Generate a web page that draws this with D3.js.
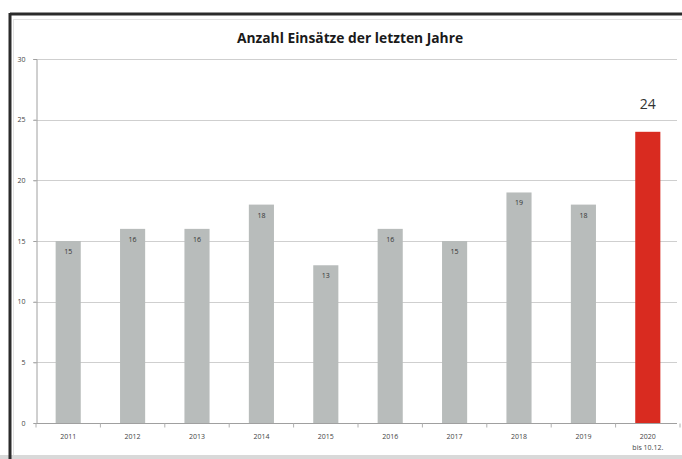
<!DOCTYPE html>
<html>
<head>
<meta charset="utf-8">
<script src="https://cdn.jsdelivr.net/npm/d3@7"></script>
<style>
  html, body { margin: 0; padding: 0; background: #ffffff; }
  svg { display: block; font-family: "Open Sans", "Liberation Sans", sans-serif; }
</style>
</head>
<body>
<svg id="chart" width="682" height="459"></svg>
<script>
// Einsätze pro Jahr
const years = ["2011", "2012", "2013", "2014", "2015", "2016", "2017", "2018", "2019", "2020"];
const subLabels = ["", "", "", "", "", "", "", "", "", "bis 10.12."];
const counts = [15, 16, 16, 18, 13, 16, 15, 19, 18, 24];
const yTicks = [0, 5, 10, 15, 20, 25, 30];
const chartTitle = "Anzahl Einsätze der letzten Jahre";

const svg = d3.select("#chart");
const W = 682, H = 459;
const plot = { left: 36, right: 680, top: 59, bottom: 423 };

// Rahmen
svg.append("rect").attr("x", 0).attr("y", 0).attr("width", W).attr("height", H).attr("fill", "#ffffff");
svg.append("rect").attr("x", 0).attr("y", 455).attr("width", W).attr("height", 4).attr("fill", "#d9d9d9");
svg.append("line").attr("x1", 10).attr("x2", W).attr("y1", 14).attr("y2", 14)
  .attr("stroke", "#2b2b2b").attr("stroke-width", 3);
svg.append("line").attr("x1", 10).attr("x2", 10).attr("y1", 13).attr("y2", H)
  .attr("stroke", "#2b2b2b").attr("stroke-width", 3);
svg.append("line").attr("x1", 13).attr("x2", W).attr("y1", 19.5).attr("y2", 19.5)
  .attr("stroke", "#e2e2e2").attr("stroke-width", 1);
svg.append("line").attr("x1", 13.5).attr("x2", 13.5).attr("y1", 19).attr("y2", 455)
  .attr("stroke", "#e2e2e2").attr("stroke-width", 1);

const x = d3.scaleBand().domain(years).range([plot.left, plot.right])
  .paddingInner(0.61).paddingOuter(0.305);
const y = d3.scaleLinear().domain([0, 30]).range([plot.bottom, plot.top]);

// Titel
svg.append("text").attr("x", 350).attr("y", 43).attr("text-anchor", "middle")
  .attr("font-size", 13.8).attr("font-weight", "bold").attr("fill", "#1a1a1a")
  .text(chartTitle);

// Gitterlinien
svg.append("g").selectAll("line").data(yTicks.filter(d => d > 0)).join("line")
  .attr("x1", plot.left - 3).attr("x2", 677)
  .attr("y1", d => Math.round(y(d)) + 0.5).attr("y2", d => Math.round(y(d)) + 0.5)
  .attr("stroke", "#cfcfcf").attr("stroke-width", 1);

// Y-Achse
const yAxis = svg.append("g").attr("transform", `translate(${plot.left + 0.5},0)`)
  .call(d3.axisLeft(y).tickValues(yTicks).tickSize(3).tickPadding(8));
yAxis.select(".domain").attr("stroke", "#a0a0a0");
yAxis.selectAll(".tick line").attr("stroke", "#a0a0a0");
yAxis.selectAll(".tick text").attr("font-size", 7).attr("fill", "#444")
  .attr("font-family", "\"Open Sans\", sans-serif");

// Balken
svg.append("g").selectAll("rect").data(years).join("rect")
  .attr("x", d => x(d)).attr("width", x.bandwidth())
  .attr("y", (d, i) => y(counts[i]))
  .attr("height", (d, i) => y(0) - y(counts[i]))
  .attr("fill", (d, i) => i === years.length - 1 ? "#d92b20" : "#b8bcbb");

// X-Achse
const xAxisY = Math.round(y(0)) + 0.5;
svg.append("line").attr("x1", plot.left).attr("x2", 677).attr("y1", xAxisY).attr("y2", xAxisY)
  .attr("stroke", "#a0a0a0");
const step = x.step();
svg.append("g").selectAll("line").data(d3.range(years.length + 1)).join("line")
  .attr("x1", i => plot.left + i * step).attr("x2", i => plot.left + i * step)
  .attr("y1", xAxisY).attr("y2", xAxisY + 4)
  .attr("stroke", "#b0b0b0");
svg.append("g").selectAll("text").data(years).join("text")
  .attr("x", d => x(d) + x.bandwidth() / 2).attr("y", 439)
  .attr("text-anchor", "middle").attr("font-size", 7).attr("fill", "#444")
  .text(d => d);
svg.append("g").selectAll("text").data(years.filter((d, i) => subLabels[i])).join("text")
  .attr("x", d => x(d) + x.bandwidth() / 2).attr("y", 450)
  .attr("text-anchor", "middle").attr("font-size", 7).attr("fill", "#444")
  .text(d => subLabels[years.indexOf(d)]);

// Werte
svg.append("g").selectAll("text").data(years).join("text")
  .attr("x", d => x(d) + x.bandwidth() / 2)
  .attr("y", (d, i) => i === years.length - 1 ? y(counts[i]) - 23 : y(counts[i]) + 13)
  .attr("text-anchor", "middle")
  .attr("font-size", (d, i) => i === years.length - 1 ? 14 : 7)
  .attr("fill", "#333")
  .text((d, i) => counts[i]);
</script>
</body>
</html>
